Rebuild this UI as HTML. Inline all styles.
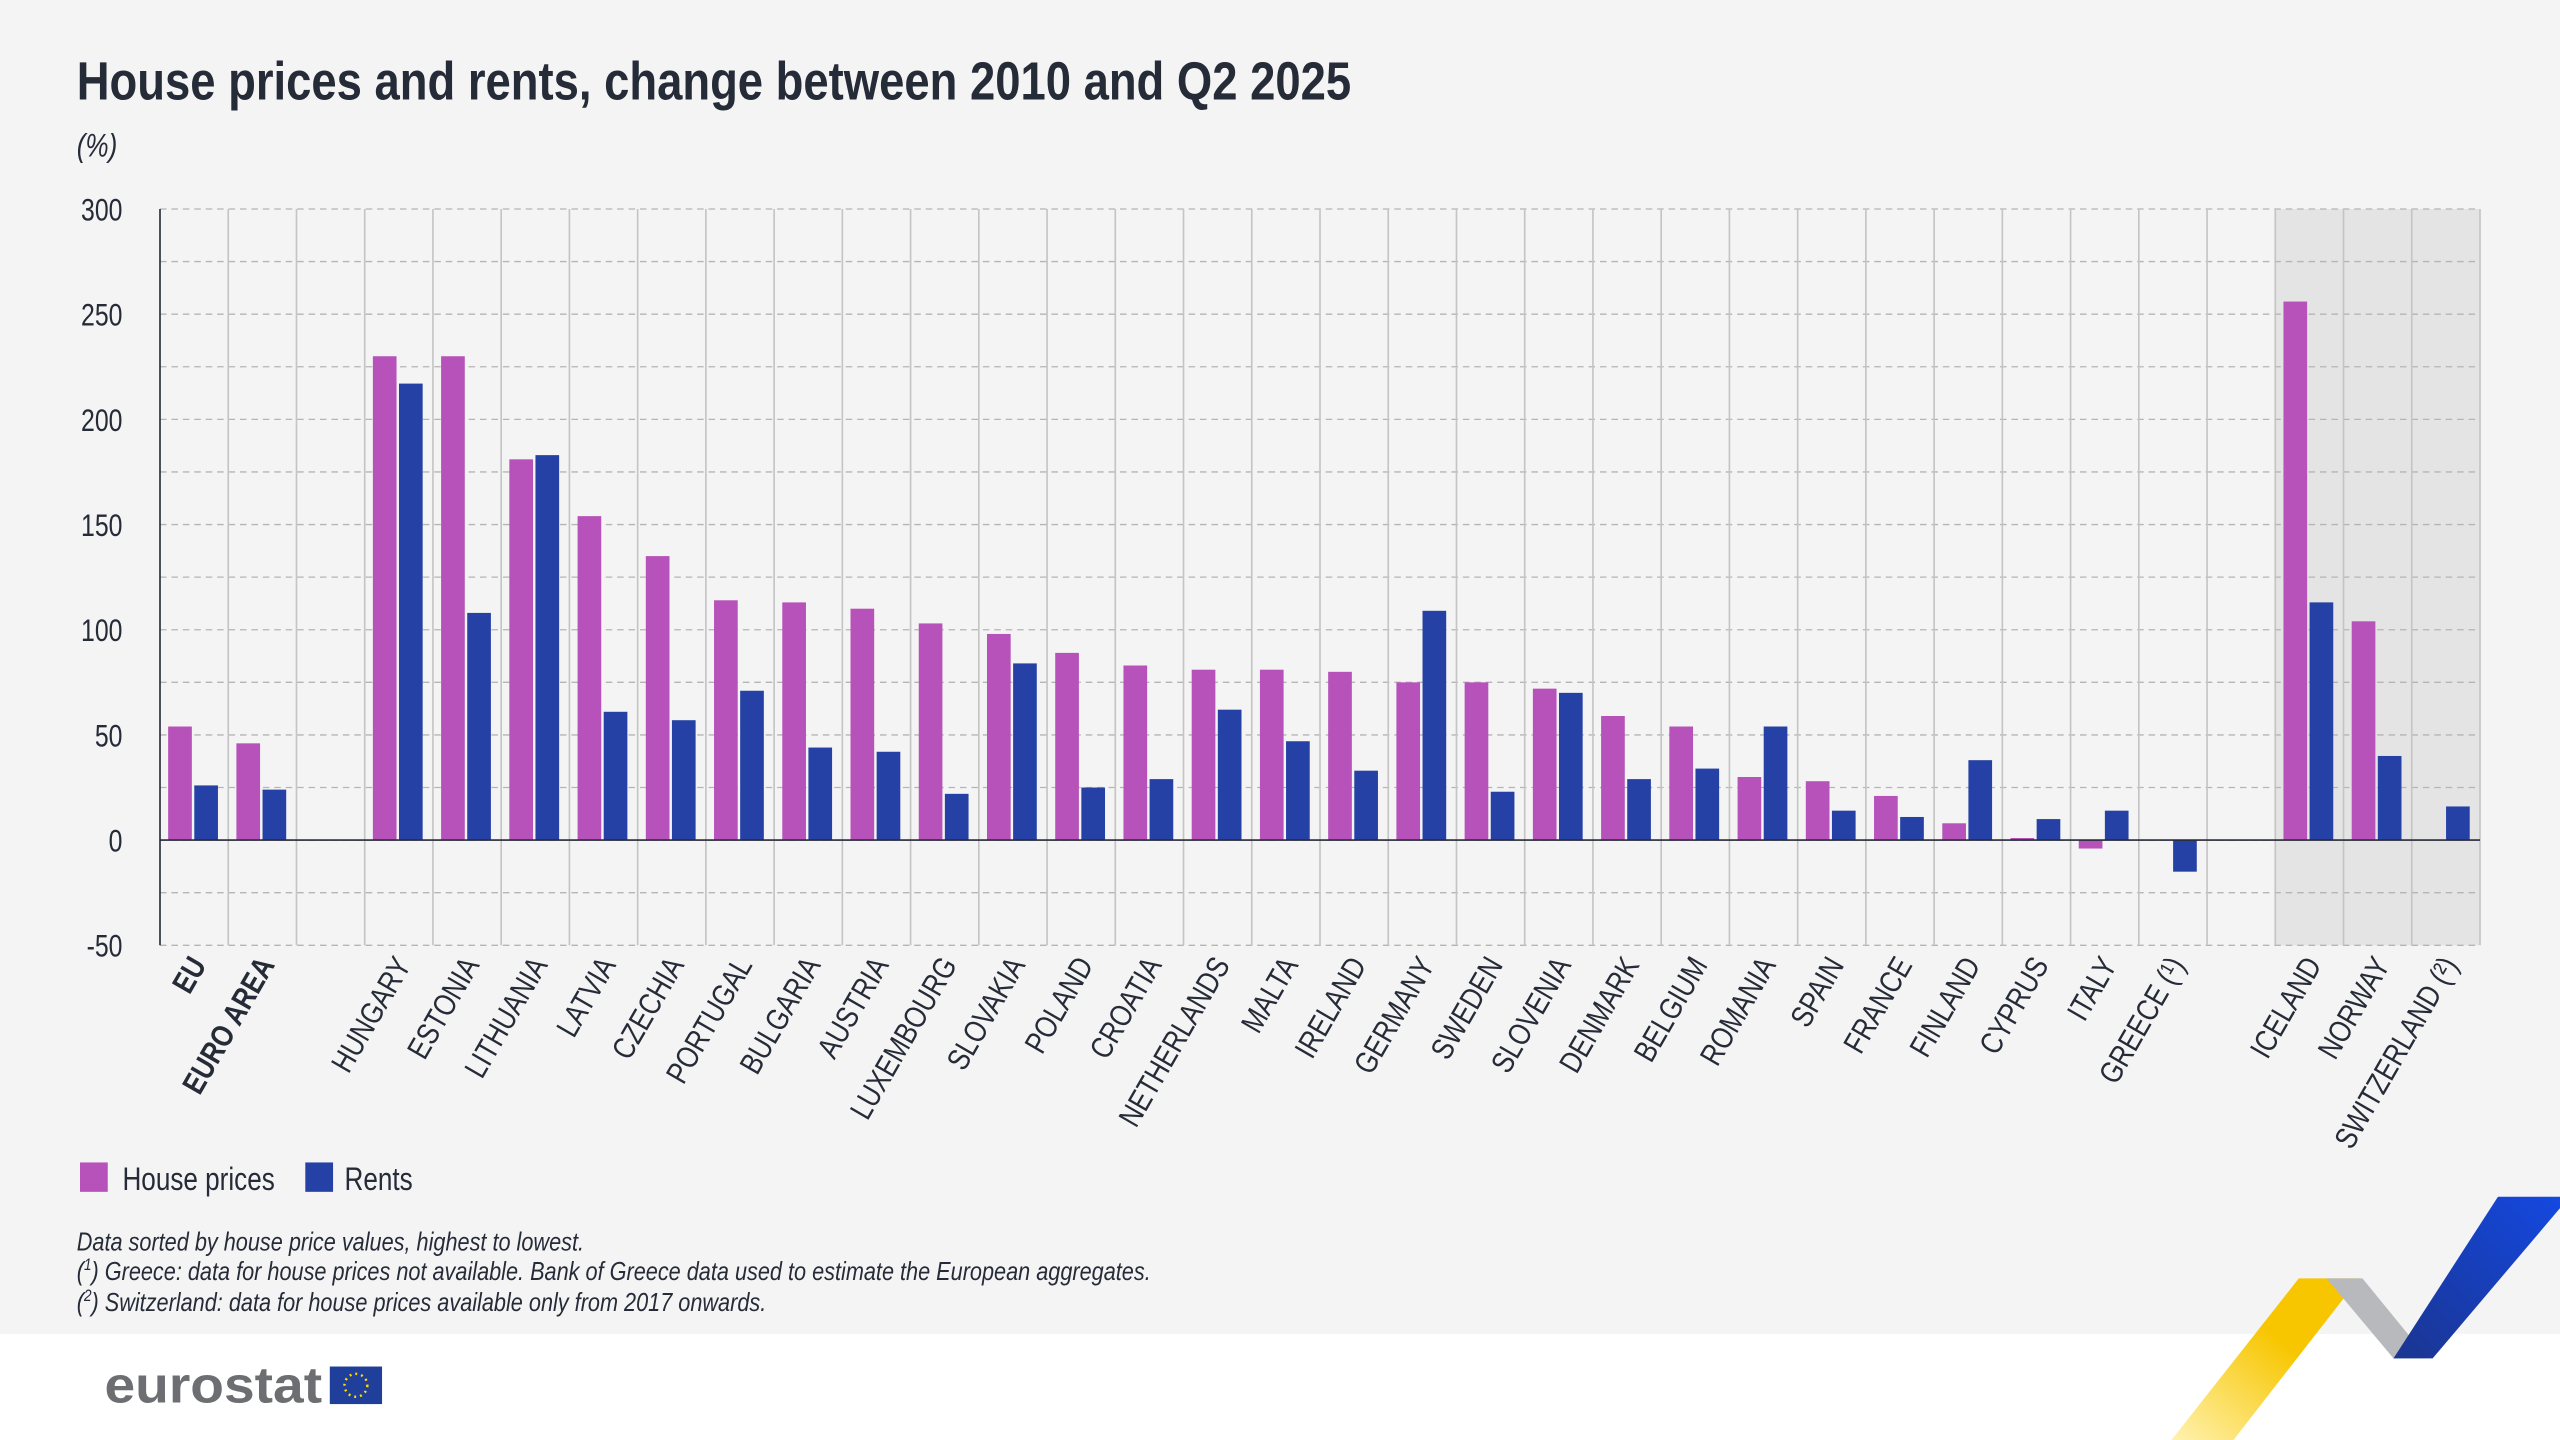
<!DOCTYPE html>
<html><head><meta charset="utf-8"><style>
html,body{margin:0;padding:0;background:#f4f4f4;}
svg{display:block;}
text{font-family:"Liberation Sans",sans-serif;fill:#262b38;}
</style></head><body>
<svg id="s" width="2560" height="1440" viewBox="0 0 1568 882" xmlns="http://www.w3.org/2000/svg">
<rect x="0" y="0" width="1568" height="882" fill="#f4f4f4"/>
<rect x="0" y="817" width="1568" height="65" fill="#ffffff"/>
<text transform="translate(47,61) scale(0.843,1)" font-size="33" font-weight="bold">House prices and rents, change between 2010 and Q2 2025</text>
<text transform="translate(47,96) scale(0.8,1)" font-size="20" font-style="italic">(%)</text>
<g id="g"></g>
<rect x="49" y="712" width="17" height="18" fill="#b652b9"/>
<text transform="translate(75,729) scale(0.8,1)" font-size="20">House prices</text>
<rect x="187" y="712" width="17" height="18" fill="#2541a5"/>
<text transform="translate(211,729) scale(0.8,1)" font-size="20">Rents</text>
<text transform="translate(47,766) scale(0.83,1)" font-size="16" font-style="italic">Data sorted by house price values, highest to lowest.</text>
<text transform="translate(47,784) scale(0.83,1)" font-size="16" font-style="italic">(<tspan font-size="10" dy="-6">1</tspan><tspan dy="6">) Greece: data for house prices not available. Bank of Greece data used to estimate the European aggregates.</tspan></text>
<text transform="translate(47,803) scale(0.83,1)" font-size="16" font-style="italic">(<tspan font-size="10" dy="-6">2</tspan><tspan dy="6">) Switzerland: data for house prices available only from 2017 onwards.</tspan></text>
<text transform="translate(64,859) scale(1.09,1)" font-size="31" font-weight="bold" style="fill:#6d6e71">eurostat</text>
<rect x="202" y="837" width="32" height="23" fill="#1f3f9a"/>
<circle cx="218" cy="848.5" r="7" fill="none" stroke="#ffdd00" stroke-width="1.5" stroke-dasharray="1.2 2.4"/>
<defs><linearGradient id="yg" x1="0" y1="1" x2="1" y2="0"><stop offset="0" stop-color="#fff2b0"/><stop offset="0.6" stop-color="#f7c600"/></linearGradient>
<linearGradient id="bg" x1="0" y1="1" x2="1" y2="0"><stop offset="0" stop-color="#1b3590"/><stop offset="1" stop-color="#1448e0"/></linearGradient></defs>
<polygon points="1330,882 1368,882 1445,783 1408,783" fill="url(#yg)"/>
<polygon points="1425,783 1447,783 1487,832 1466,832" fill="#b8b9bd"/>
<polygon points="1466,832 1490,832 1568,740 1568,733 1530,733" fill="url(#bg)"/>
</svg>
<script>
var g=document.getElementById('g');var NS='http://www.w3.org/2000/svg';
function el(t,a,txt){var e=document.createElementNS(NS,t);for(var k in a)e.setAttribute(k,a[k]);if(txt!=null)e.textContent=txt;g.appendChild(e);return e;}
var L=98,R=1519,T=128,B=579,sc=451/350,Z=T+300*sc,N=34,W=(R-L)/N;
function y(v){return Z-v*sc;}
el('rect',{x:L+31*W,y:T,width:3*W,height:B-T,fill:'#e4e4e4'});
for(var v=-50;v<=300;v+=25){el('line',{x1:L,x2:R,y1:y(v),y2:y(v),stroke:'#b5b5b5','stroke-width':0.8,'stroke-dasharray':'4 3'});}
for(var i=1;i<=N;i++){el('line',{x1:L+i*W,x2:L+i*W,y1:T,y2:B,stroke:'#c4c4c4','stroke-width':1});}
el('line',{x1:L,x2:L,y1:T,y2:B,stroke:'#262b38','stroke-width':1});
for(var v=-50;v<=300;v+=50){el('text',{transform:'translate(75,'+(y(v)+7)+') scale(0.8,1)','text-anchor':'end','font-size':19},String(v));}
var d=[["EU",54,26,1],["EURO AREA",46,24,1],null,["HUNGARY",230,217],["ESTONIA",230,108],["LITHUANIA",181,183],["LATVIA",154,61],["CZECHIA",135,57],["PORTUGAL",114,71],["BULGARIA",113,44],["AUSTRIA",110,42],["LUXEMBOURG",103,22],["SLOVAKIA",98,84],["POLAND",89,25],["CROATIA",83,29],["NETHERLANDS",81,62],["MALTA",81,47],["IRELAND",80,33],["GERMANY",75,109],["SWEDEN",75,23],["SLOVENIA",72,70],["DENMARK",59,29],["BELGIUM",54,34],["ROMANIA",30,54],["SPAIN",28,14],["FRANCE",21,11],["FINLAND",8,38],["CYPRUS",1,10],["ITALY",-4,14],["GREECE (¹)",null,-15],null,["ICELAND",256,113],["NORWAY",104,40],["SWITZERLAND (²)",null,16]];
function bar(x,v,c){if(v==null)return;var a=y(Math.max(v,0)),b=y(Math.min(v,0));el('rect',{x:x,y:a,width:14.5,height:Math.max(b-a,0.8),fill:c});}
d.forEach(function(r,i){if(!r)return;var x0=L+i*W;bar(x0+5,r[1],'#b652b9');bar(x0+21,r[2],'#2541a5');
var cx=x0+W/2+8;var a={transform:'translate('+cx+',591) rotate(-60) scale(0.82,1)','text-anchor':'end','font-size':19};if(r[3])a['font-weight']='bold';el('text',a,r[0]);});
el('line',{x1:L,x2:R,y1:Z,y2:Z,stroke:'#262b38','stroke-width':1});
</script>
</body></html>
